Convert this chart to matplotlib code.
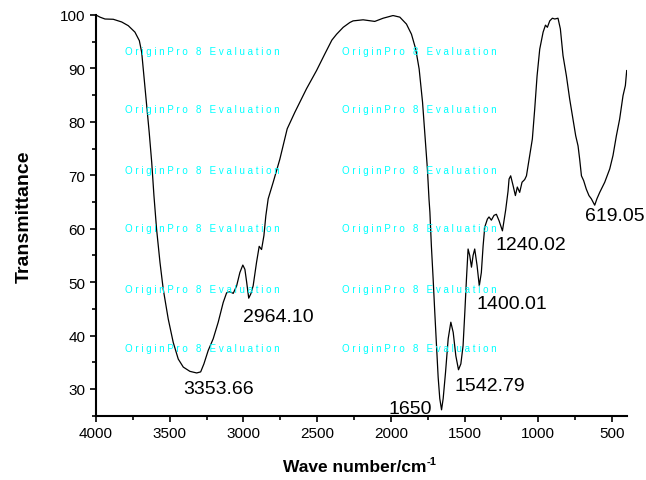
import matplotlib
matplotlib.use('Agg')
import matplotlib.pyplot as plt
from matplotlib.ticker import MultipleLocator

plt.rcParams['font.family'] = ['Liberation Sans', 'DejaVu Sans']

# FTIR spectrum
wavenumber = [4000, 3973, 3939, 3883, 3826, 3781, 3736, 3706, 3690, 3675,
              3656, 3639, 3622, 3607, 3589, 3566, 3544, 3510, 3476, 3442,
              3408, 3363, 3317, 3290, 3268, 3239, 3205, 3171, 3137, 3114,
              3092, 3069, 3046, 3024, 3004, 2990, 2978, 2964, 2950, 2934,
              2911, 2893, 2877, 2861, 2848, 2832, 2798, 2753, 2703, 2651,
              2572, 2504, 2448, 2400, 2368, 2323, 2278, 2256, 2188, 2109,
              2052, 1985, 1939, 1894, 1860, 1831, 1808, 1785, 1768, 1752,
              1741, 1735, 1725, 1713, 1702, 1690, 1679, 1668, 1656, 1645,
              1629, 1611, 1593, 1577, 1559, 1541, 1525, 1510, 1498, 1487,
              1476, 1465, 1453, 1442, 1431, 1415, 1400, 1386, 1374, 1363,
              1345, 1334, 1318, 1300, 1284, 1266, 1243, 1221, 1205, 1198,
              1187, 1171, 1155, 1142, 1126, 1110, 1092, 1080, 1058, 1040,
              1024, 1008, 990, 967, 951, 938, 922, 904, 888, 866,
              850, 832, 809, 787, 764, 746, 730, 719, 707, 692,
              674, 656, 640, 617, 602, 583, 549, 515, 493, 470,
              448, 425, 409, 400]
transmittance = [100.0, 99.6, 99.25, 99.2, 98.7, 98.0, 96.8, 95.2, 93.0, 88.6,
                 83.0, 78.0, 72.4, 66.2, 59.9, 53.7, 48.7, 43.1, 38.7, 35.6,
                 34.1, 33.3, 33.0, 33.2, 34.7, 37.2, 39.4, 42.5, 46.2, 48.0,
                 48.2, 47.9, 49.3, 51.8, 53.2, 52.4, 50.0, 47.0, 47.8, 49.3,
                 53.7, 56.7, 56.1, 58.7, 62.4, 65.6, 68.7, 73.0, 78.7, 81.8,
                 86.2, 89.6, 92.7, 95.3, 96.4, 97.7, 98.6, 98.9, 99.1, 98.8,
                 99.4, 99.9, 99.6, 98.3, 96.4, 93.6, 89.9, 83.7, 77.4, 71.2,
                 65.5, 63.1, 56.8, 50.6, 44.4, 38.1, 32.2, 28.2, 26.1, 28.2,
                 33.1, 39.4, 42.5, 40.6, 36.2, 33.6, 34.7, 38.1, 44.4, 50.6,
                 56.2, 55.0, 52.8, 55.0, 56.2, 53.1, 49.3, 51.8, 56.8, 60.3,
                 61.8, 62.2, 61.6, 62.5, 62.7, 61.5, 59.6, 63.5, 67.0, 69.3,
                 69.9, 68.1, 66.2, 67.8, 66.8, 68.7, 69.2, 69.9, 73.7, 76.8,
                 82.4, 88.6, 93.6, 96.8, 98.1, 97.7, 98.9, 99.4, 99.25, 99.4,
                 97.4, 92.4, 88.6, 84.3, 80.5, 77.4, 75.5, 73.0, 69.9, 69.0,
                 67.4, 66.2, 65.6, 64.4, 65.6, 66.8, 68.7, 71.2, 73.7, 77.4,
                 80.5, 84.9, 86.8, 89.6]

# peak labels: text, x, y (left edge, vertical centre)
peak_labels = ['3353.66', '2964.10', '1650', '1542.79', '1400.01', '1240.02', '619.05']
peak_x = [3408, 3001, 2018, 1571, 1419, 1288, 680]
peak_y = [30.1, 43.5, 26.4, 30.6, 46.0, 57.0, 62.4]

watermark = 'O r i g i n P r o   8   E v a l u a t i o n'
wm_cols = [125, 342]
wm_rows = [52, 110, 171, 229, 290, 349]

W, H = 646, 481
fig = plt.figure(figsize=(W / 100., H / 100.), dpi=100)
ax = fig.add_axes([96. / W, 1 - 416.7 / H, (626.7 - 96) / W, (416.7 - 16) / H])

for cx in wm_cols:
    for ry in wm_rows:
        fig.text(cx / float(W), 1 - ry / float(H), watermark, color='#00FFFF',
                 fontsize=7, ha='left', va='center', zorder=0)

ax.plot(wavenumber, transmittance, color='black', linewidth=0.9)

for lab, x, y in zip(peak_labels, peak_x, peak_y):
    ax.text(x, y, lab, fontsize=14, ha='left', va='center', clip_on=False)

ax.set_xlim(4000, 400)
ax.set_ylim(25, 100)
ax.xaxis.set_major_locator(MultipleLocator(500))
ax.xaxis.set_minor_locator(MultipleLocator(250))
ax.yaxis.set_major_locator(MultipleLocator(10))
ax.yaxis.set_minor_locator(MultipleLocator(5))
ax.tick_params(which='major', direction='out', length=4.5, width=1.2,
               labelsize=11, pad=3)
ax.tick_params(which='minor', direction='out', length=3, width=1.2)

for side in ['top', 'right']:
    ax.spines[side].set_visible(False)
for side in ['left', 'bottom']:
    ax.spines[side].set_linewidth(1.5)
ax.patch.set_alpha(0)

ax.text(-0.135, 0.5, 'Transmittance', transform=ax.transAxes, rotation=90,
        fontsize=14, fontweight='bold', ha='center', va='center')
xl = ax.text(0.487, -0.126, 'Wave number/cm', transform=ax.transAxes,
             fontsize=12.5, fontweight='bold', ha='center', va='center')
ax.annotate('-1', xy=(1, 0.85), xycoords=xl, fontsize=8, fontweight='bold',
            ha='left', va='center')

plt.savefig('out.png', dpi=100)
